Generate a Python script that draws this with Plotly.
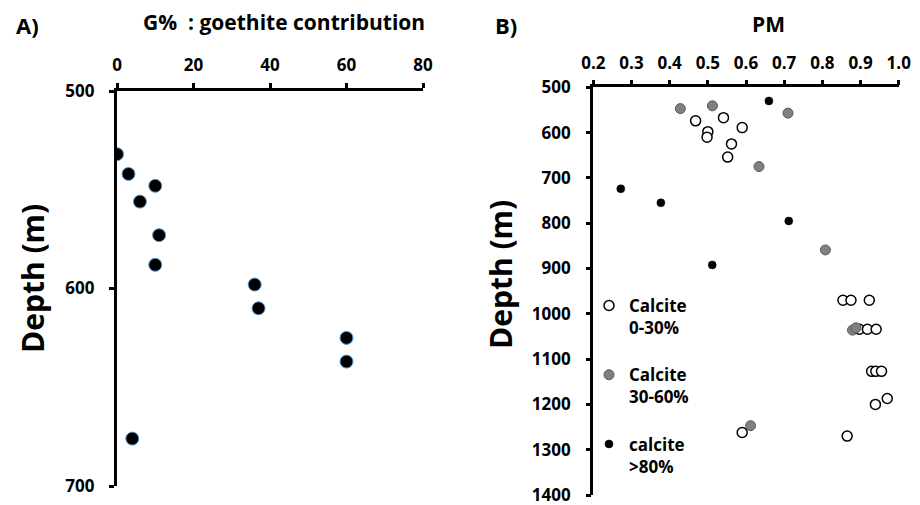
import plotly.graph_objects as go

# Panel A data
goethite_pct = [0, 3, 10, 6, 11, 10, 36, 37, 60, 60, 4]
goethite_depth = [532, 542, 548, 556, 573, 588, 598, 610, 625, 637, 676]

# Panel B data
white_pm = [0.468, 0.541, 0.500, 0.498, 0.590, 0.562, 0.552, 0.854, 0.875, 0.923,
            0.897, 0.918, 0.941, 0.929, 0.940, 0.955, 0.970, 0.939, 0.590, 0.865]
white_depth = [574, 567, 598, 610, 589, 625, 654, 970, 970, 970,
               1034, 1034, 1034, 1127, 1127, 1127, 1187, 1200, 1262, 1270]
gray_pm = [0.428, 0.512, 0.710, 0.634, 0.808, 0.879, 0.888, 0.612]
gray_depth = [547, 541, 557, 675, 859, 1036, 1031, 1247]
black_pm = [0.660, 0.272, 0.377, 0.712, 0.5115]
black_depth = [530, 724, 755, 795, 892]

a_xticks = [0, 20, 40, 60, 80]
a_yticks = [500, 600, 700]
b_xticks = [0.2, 0.3, 0.4, 0.5, 0.6, 0.7, 0.8, 0.9, 1.0]
b_yticks = [500, 600, 700, 800, 900, 1000, 1100, 1200, 1300, 1400]

FONT = "Open Sans"
W, H = 920, 505

# transparent spacer so the y tick labels sit further from the axis line
PAD = "<span style='font-size:10px;color:rgba(0,0,0,0)'>00</span>"

fig = go.Figure()

fig.add_trace(go.Scatter(x=goethite_pct, y=goethite_depth, mode="markers", xaxis="x", yaxis="y",
                         marker=dict(size=13, color="black", line=dict(color="#5B9BD5", width=1)),
                         showlegend=False))

fig.add_trace(go.Scatter(x=white_pm, y=white_depth, mode="markers", xaxis="x2", yaxis="y2",
                         name="Calcite<br>0-30%", legendgroup="a",
                         marker=dict(size=10, color="white", line=dict(color="black", width=1.5))))
fig.add_trace(go.Scatter(x=gray_pm, y=gray_depth, mode="markers", xaxis="x2", yaxis="y2",
                         name="Calcite<br>30-60%", legendgroup="b",
                         marker=dict(size=10, color="#808080", line=dict(color="#5a5a5a", width=1))))
fig.add_trace(go.Scatter(x=black_pm, y=black_depth, mode="markers", xaxis="x2", yaxis="y2",
                         name="calcite<br>>80%", legendgroup="c",
                         marker=dict(size=8, color="black", line=dict(color="black", width=0.5))))

tickfont = dict(family=FONT, size=17, color="black", weight="bold")
axis_common = dict(showline=True, linecolor="black", linewidth=2.5, ticks="outside",
                   ticklen=5, tickwidth=2.5, tickcolor="black", showgrid=False,
                   zeroline=False, tickfont=tickfont, automargin=False,
                   ticklabeloverflow="allow")

fig.update_layout(
    width=W, height=H,
    margin=dict(l=0, r=0, t=0, b=0, autoexpand=False),
    paper_bgcolor="white", plot_bgcolor="white",
    xaxis=dict(domain=[117 / W, 423 / W], range=[0, 80], side="top", anchor="y",
               tickvals=a_xticks, ticklabelstandoff=5, **axis_common),
    yaxis=dict(domain=[1 - 486 / H, 1 - 91 / H], range=[700, 500], anchor="x",
               tickvals=a_yticks, ticktext=[f"{v}{PAD}" for v in a_yticks], **axis_common),
    xaxis2=dict(domain=[593.3 / W, 898.7 / W], range=[0.2, 1.0], side="top", anchor="y2",
                tickvals=b_xticks, ticktext=[f"{v:.1f}" for v in b_xticks],
                ticklabelstandoff=4, **axis_common),
    yaxis2=dict(domain=[1 - 495 / H, 1 - 87.3 / H], range=[1400, 500], anchor="x2",
                tickvals=b_yticks, ticktext=[f"{v}{PAD}" for v in b_yticks], **axis_common),
    showlegend=True,
    legend=dict(x=(609 - 20) / W, y=1 - 288 / H, xanchor="left", yanchor="top",
                bgcolor="rgba(0,0,0,0)", tracegroupgap=22, valign="top",
                font=dict(family=FONT, size=17, color="black", weight="bold"),
                itemwidth=30),
)

ann_font = dict(family=FONT, color="black", weight="bold")
annotations = [
    dict(text="A)", x=14, y=25, size=22),
    dict(text="G%  : goethite contribution", x=284, y=22, size=21, center=True),
    dict(text="B)", x=493, y=25, size=22),
    dict(text="PM", x=768, y=24, size=21, center=True),
]
for a in annotations:
    fig.add_annotation(text=a["text"], xref="paper", yref="paper",
                       x=a["x"] / W, y=1 - a["y"] / H,
                       xanchor="center" if a.get("center") else "left", yanchor="middle",
                       showarrow=False, font=dict(size=a["size"], **ann_font))

for cx, cy in [(32, 279), (500, 275)]:
    fig.add_annotation(text="Depth (m)", xref="paper", yref="paper",
                       x=cx / W, y=1 - cy / H, xanchor="center", yanchor="middle",
                       textangle=-90, showarrow=False, font=dict(size=30, **ann_font))

fig.write_html("out.html", config={"displayModeBar": False},
               post_script="document.body.style.margin='0';")
